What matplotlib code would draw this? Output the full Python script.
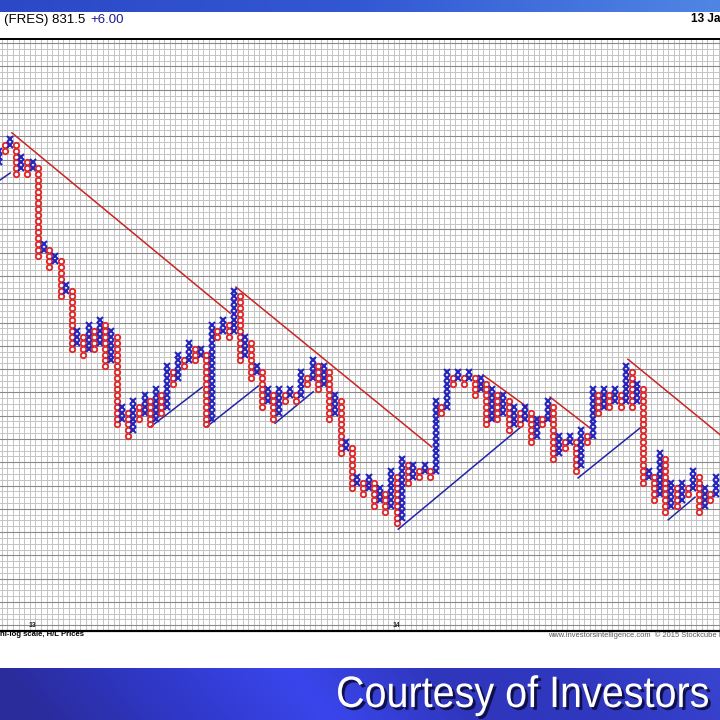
"""Point & figure chart of FRES (semi-log scale, H/L prices) in an Investors Intelligence frame."""

import numpy as np
import matplotlib
matplotlib.use("Agg")
import matplotlib.pyplot as plt
import matplotlib.patheffects as pe
from matplotlib.colors import LinearSegmentedColormap
from matplotlib.textpath import TextPath
from matplotlib.patches import PathPatch
from matplotlib.font_manager import FontProperties
from matplotlib.transforms import Affine2D

# columns left to right, box numbers (low, high); first column is X, then they alternate
first_kind = "X"
col_low = [80, 82, 83, 78, 79, 78, 79, 64, 65, 62, 63, 57, 58, 48, 49, 47, 48, 48, 49, 45,
           46, 35, 36, 33, 34, 36, 37, 35, 36, 37, 38, 42, 43, 45, 46, 46, 47, 35, 36, 50,
           51, 50, 51, 46, 47, 43, 44, 38, 39, 36, 37, 39, 40, 39, 40, 42, 43, 41, 42, 36,
           37, 30, 31, 24, 25, 23, 24, 21, 22, 20, 21, 18, 19, 25, 26, 26, 27, 26, 27, 37,
           38, 42, 43, 42, 43, 40, 41, 35, 36, 36, 37, 34, 35, 35, 36, 32, 33, 35, 36, 29,
           30, 31, 32, 27, 28, 32, 33, 37, 38, 38, 39, 38, 39, 38, 39, 25, 26, 22, 23, 20,
           21, 21, 22, 23, 24, 20, 21, 22, 23]
col_high = [82, 83, 84, 83, 81, 80, 80, 79, 66, 65, 64, 63, 59, 58, 51, 50, 52, 51, 53, 52,
            51, 50, 38, 37, 39, 38, 40, 39, 41, 40, 45, 44, 47, 46, 49, 48, 48, 47, 52, 51,
            53, 52, 58, 57, 50, 49, 45, 44, 41, 40, 41, 40, 41, 40, 44, 43, 46, 45, 45, 44,
            40, 39, 32, 31, 26, 25, 26, 25, 24, 23, 27, 26, 29, 28, 28, 27, 28, 27, 39, 38,
            44, 43, 44, 43, 44, 43, 43, 42, 41, 40, 40, 39, 38, 37, 38, 37, 36, 36, 39, 38,
            33, 32, 33, 32, 34, 33, 41, 40, 41, 40, 41, 40, 45, 44, 42, 41, 27, 26, 30, 29,
            25, 24, 25, 24, 27, 26, 24, 23, 26]

# trend lines as (column, box) end points
red_lines = [((2.3, 85.1), (41.3, 54.1)),
             ((42.3, 58.6), (77.3, 31.1)),
             ((86.4, 43.5), (94.3, 38.0)),
             ((98.4, 39.7), (105.5, 34.4)),
             ((112.3, 46.2), (128.8, 33.2))]
blue_lines = [((0.2, 77.0), (2.0, 78.2)),
              ((27.1, 34.6), (36.3, 41.4)),
              ((37.1, 34.6), (46.3, 41.6)),
              ((49.3, 35.2), (56.1, 40.6)),
              ((71.3, 17.0), (93.0, 34.4)),
              ((103.4, 25.8), (114.5, 34.4)),
              ((119.5, 18.6), (124.3, 22.5))]

# year markers (column where the year starts)
year_cols = [6, 71]
year_labels = ["13", "14"]

title_left = "(FRES) 831.5"
title_change = "+6.00"
title_date = "13 Ja"
footer_left = "ni-log scale, H/L Prices"
footer_right = "www.investorsintelligence.com  \u00a9 2015 Stockcube I"
banner = "Courtesy of Investors"

X_COLOR = "#2222c0"
O_COLOR = "#e02a2a"

fig = plt.figure(figsize=(7.2, 7.2), dpi=100)
fig.patch.set_facecolor("white")

# top blue band
top = fig.add_axes([0, 1 - 12 / 720, 1, 12 / 720])
top_cmap = LinearSegmentedColormap.from_list("top", ["#2c48c6", "#3358d4", "#4f86e4"])
top.imshow(np.linspace(0, 1, 256)[None, :], aspect="auto", cmap=top_cmap, extent=[0, 1, 0, 1])
top.axis("off")

# bottom banner, 1 data unit = 1 pixel
bot = fig.add_axes([0, 0, 1, 52 / 720])
bot_cmap = LinearSegmentedColormap.from_list(
    "bot", ["#2a2c9c", "#3038c8", "#3a46ec", "#2f36bc", "#3038c0", "#3944d0"])
grad = np.linspace(0, 1, 512)[None, :] * np.ones((40, 1))
grad = grad - 0.06 * np.linspace(0, 1, 40)[:, None]
bot.imshow(grad, aspect="auto", cmap=bot_cmap, extent=[0, 720, 0, 52], vmin=0, vmax=1)
bot.set_xlim(0, 720)
bot.set_ylim(0, 52)
bot.axis("off")

# condensed banner lettering: a text path squeezed horizontally
tp = TextPath((0, 0), banner, prop=FontProperties(family="Liberation Sans", size=44))
ext = tp.get_extents()
sx = 370 / ext.width
tp = Affine2D().translate(-ext.x0, 0).scale(sx, 1).translate(338, 13).transform_path(tp)
bot.add_patch(PathPatch(tp, facecolor="white", edgecolor="none",
                        path_effects=[pe.withSimplePatchShadow(offset=(2, -2),
                                                                shadow_rgbFace="#0c0c3a",
                                                                alpha=0.9)]))

# header text
fig.text(4 / 720, 1 - 20 / 720, title_left, ha="left", va="center", fontsize=9.5,
         family="Liberation Sans")
fig.text(90 / 720, 1 - 20 / 720, title_change, ha="left", va="center", fontsize=9.5,
         family="Liberation Sans", color="#1c1c90")
fig.text(691 / 720, 1 - 19 / 720, title_date, ha="left", va="center", fontsize=8.5,
         family="Liberation Sans", fontweight="bold")

# footer text
fig.text(0, 1 - 635 / 720, footer_left, ha="left", va="center", fontsize=5.6,
         family="Liberation Sans", fontweight="bold")
fig.text(548 / 720, 1 - 635 / 720, footer_right, ha="left", va="center", fontsize=5.4,
         family="Liberation Sans", color="#555555")

# chart area: column i centred at pixel -1 + 5.6 i, box k at 631 - 5.82 (k + 0.5) from top
ax = fig.add_axes([0, (720 - 631) / 720, 1, 592 / 720])
ax.set_xlim((0 + 1) / 5.6, (720 + 1) / 5.6)
ax.set_ylim(-0.5, -0.5 + 592 / 5.82)

n_cols = len(col_low)
for c in np.arange(-0.5, n_cols + 1):
    ax.axvline(c, color="#c4c4c4", lw=0.7, zorder=0)
for r in np.arange(-0.5, 102):
    dark = (r - 0.5) % 4 == 0
    ax.axhline(r, color="#8a8a8a" if dark else "#c4c4c4", lw=0.8 if dark else 0.7, zorder=0)

for i, (lo, hi) in enumerate(zip(col_low, col_high)):
    boxes = np.arange(lo, hi + 1)
    is_x = (i % 2 == 0) == (first_kind == "X")
    if is_x:
        ax.plot(np.full(len(boxes), i), boxes, ls="none", marker="x", ms=3.7, mew=1.45,
                color=X_COLOR, zorder=3)
    else:
        ax.plot(np.full(len(boxes), i), boxes, ls="none", marker="o", ms=3.9, mew=1.35,
                mfc="none", mec=O_COLOR, zorder=3)

for (x0, y0), (x1, y1) in red_lines:
    ax.plot([x0, x1], [y0, y1], color="#cc2424", lw=1.1, zorder=2)
for (x0, y0), (x1, y1) in blue_lines:
    ax.plot([x0, x1], [y0, y1], color="#2424a8", lw=1.1, zorder=2)

for c, lab in zip(year_cols, year_labels):
    ax.text(c, 0.4, lab, ha="center", va="center", fontsize=5, family="Liberation Sans",
            fontweight="bold", color="#222222")

ax.set_xticks([])
ax.set_yticks([])
for side in ["left", "right"]:
    ax.spines[side].set_visible(False)
ax.spines["top"].set_linewidth(1.4)
ax.spines["bottom"].set_linewidth(1.6)

plt.savefig("out.png", dpi=100)
plt.close()
